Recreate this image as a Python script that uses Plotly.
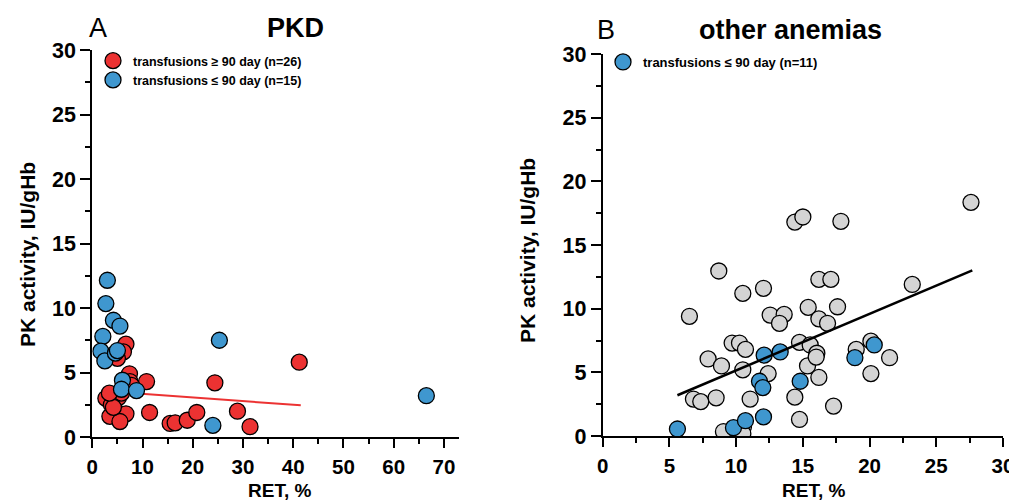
import plotly.graph_objects as go

# ---------------- Panel A (PKD) ----------------
pkd_red_ret = [6.7, 6.2, 5.0, 7.4, 7.5, 10.8, 24.4, 41.2, 2.7, 5.2, 3.8, 4.5, 3.5, 6.7, 5.5,
               11.4, 15.5, 16.5, 18.9, 20.8, 28.9, 31.4, 7.8, 4.2, 5.8, 3.4]
pkd_red_pk = [7.2, 6.6, 6.1, 4.9, 4.3, 4.3, 4.2, 5.8, 3.0, 3.05, 2.5, 2.1, 1.6, 1.8, 1.2,
              1.9, 1.05, 1.1, 1.3, 1.9, 2.0, 0.8, 4.0, 2.3, 3.4, 3.4]
pkd_blue_ret = [3.0, 2.7, 4.2, 5.5, 2.1, 25.3, 1.7, 2.5, 4.6, 5.0, 6.0, 5.8, 8.8, 24.0, 66.5]
pkd_blue_pk = [12.15, 10.34, 9.05, 8.6, 7.8, 7.5, 6.65, 5.9, 6.5, 6.7, 4.4, 3.7, 3.6, 0.9, 3.2]
pkd_fit_ret = [2.9, 41.5]
pkd_fit_pk = [3.54, 2.46]

# ---------------- Panel B (other anemias) ----------------
oth_gray_ret = [6.5, 8.7, 10.5, 12.05, 14.4, 15.0, 16.2, 12.55, 13.6, 13.25, 15.4, 16.2, 9.7, 10.25,
                10.7, 7.9, 8.9, 10.5, 12.4, 14.75, 15.55, 16.05, 15.35, 16.2, 6.8, 7.35, 8.5, 11.05,
                14.4, 14.75, 9.05, 10.55, 10.5, 27.6, 17.85, 17.1, 23.2, 17.6, 16.85, 16.0, 19.0,
                20.1, 21.5, 20.1, 17.3]
oth_gray_pk = [9.4, 12.96, 11.2, 11.6, 16.8, 17.2, 12.3, 9.5, 9.55, 8.85, 10.1, 9.2, 7.3, 7.3,
               6.8, 6.05, 5.5, 5.2, 4.9, 7.35, 7.15, 6.5, 5.5, 4.6, 2.9, 2.7, 3.0, 2.9,
               3.05, 1.3, 0.35, 0.73, 0.2, 18.35, 16.86, 12.3, 11.9, 10.15, 8.85, 6.2, 6.8,
               7.45, 6.15, 4.9, 2.35]
oth_blue_ret = [5.6, 9.8, 10.7, 12.05, 11.75, 12.0, 12.1, 13.3, 14.8, 18.9, 20.35]
oth_blue_pk = [0.55, 0.65, 1.2, 1.5, 4.3, 3.8, 6.35, 6.6, 4.3, 6.15, 7.15]
oth_fit_ret = [5.6, 27.7]
oth_fit_pk = [3.2, 13.0]

# tick labels
y_ticks = [0, 5, 10, 15, 20, 25, 30]
xA_ticks = [0, 10, 20, 30, 40, 50, 60, 70]
xB_ticks = [0, 5, 10, 15, 20, 25, 30]

labels = ["transfusions \u2265 90 day (n=26)", "transfusions \u2264 90 day (n=15)",
          "transfusions \u2264 90 day (n=11)"]
y_title = "PK activity, IU/gHb"
x_title = "RET, %"

RED = "#EC3232"
BLUE = "#3F97CF"
GRAY = "#D4D4D4"
FONT = "Arial, Liberation Sans, sans-serif"

mk = lambda c: dict(color=c, size=16, line=dict(color="black", width=1.3))

fig = go.Figure()
fig.add_trace(go.Scatter(x=pkd_fit_ret, y=pkd_fit_pk, mode="lines",
                         line=dict(color=RED, width=2), showlegend=False,
                         xaxis="x", yaxis="y"))
fig.add_trace(go.Scatter(x=pkd_red_ret, y=pkd_red_pk, mode="markers", marker=mk(RED),
                         name=labels[0], legend="legend", xaxis="x", yaxis="y"))
fig.add_trace(go.Scatter(x=pkd_blue_ret, y=pkd_blue_pk, mode="markers", marker=mk(BLUE),
                         name=labels[1], legend="legend", xaxis="x", yaxis="y"))

fig.add_trace(go.Scatter(x=oth_gray_ret, y=oth_gray_pk, mode="markers", marker=mk(GRAY),
                         showlegend=False, xaxis="x2", yaxis="y2"))
fig.add_trace(go.Scatter(x=oth_blue_ret, y=oth_blue_pk, mode="markers", marker=mk(BLUE),
                         name=labels[2], legend="legend2", xaxis="x2", yaxis="y2"))
fig.add_trace(go.Scatter(x=oth_fit_ret, y=oth_fit_pk, mode="lines",
                         line=dict(color="black", width=2.5), showlegend=False,
                         xaxis="x2", yaxis="y2"))

# page is offset by the 8px body margin
OFF = 8
W, H = 1009, 494
def px_x(p): return (p - OFF) / W
def px_y(p): return 1 - (p - OFF) / H

tickfont_y = dict(family=FONT, size=21.5, color="black", weight=700)
tickfont_x = dict(family=FONT, size=20.5, color="black", weight=700)

def bold(vals): return [f"<b>{v}</b>" for v in vals]

def xaxis(domain, rng, ticks, minor, anchor):
    return dict(domain=domain, range=rng, tickmode="array", tickvals=ticks, ticktext=bold(ticks),
                showgrid=False, zeroline=False, anchor=anchor, automargin=False,
                showline=True, linecolor="black", linewidth=2, ticks="outside", ticklen=9,
                tickwidth=2, tickcolor="black", tickfont=tickfont_x, ticklabelstandoff=1,
                minor=dict(dtick=minor, tick0=0, ticks="outside", ticklen=5, tickwidth=2,
                           tickcolor="black", showgrid=False))

def yaxis(domain, anchor):
    return dict(domain=domain, range=[0, 30], tickmode="array", tickvals=y_ticks,
                ticktext=bold(y_ticks), showgrid=False, zeroline=False,
                anchor=anchor, automargin=False,
                showline=True, linecolor="black", linewidth=2, ticks="outside", ticklen=10,
                tickwidth=2, tickcolor="black", tickfont=tickfont_y,
                minor=dict(dtick=2.5, tick0=0, ticks="outside", ticklen=5, tickwidth=2,
                           tickcolor="black", showgrid=False))

def ann(text, x, y, size, bold=False, angle=0, xanchor="center"):
    return dict(text=f"<b>{text}</b>" if bold else text, x=px_x(x), y=px_y(y),
                xref="paper", yref="paper", showarrow=False, xanchor=xanchor,
                yanchor="middle", textangle=angle,
                font=dict(family=FONT, size=size, color="black"))

fig.update_layout(
    width=W, height=H, margin=dict(l=0, r=0, t=0, b=0, autoexpand=False),
    paper_bgcolor="white", plot_bgcolor="white",
    font=dict(family=FONT, color="black"),
    xaxis=xaxis([px_x(92.3), px_x(459)], [0, 73], xA_ticks, 5, "y"),
    yaxis=yaxis([px_y(437), px_y(50)], "x"),
    xaxis2=xaxis([px_x(602.7), px_x(1003)], [0, 30], xB_ticks, 2.5, "y2"),
    yaxis2=yaxis([px_y(436), px_y(54)], "x2"),
    legend=dict(x=px_x(93), y=px_y(46), xanchor="left", yanchor="top",
                bgcolor="rgba(0,0,0,0)", font=dict(family=FONT, size=12.5, weight="bold"),
                itemsizing="trace", itemwidth=30, tracegroupgap=0),
    legend2=dict(x=px_x(603), y=px_y(47), xanchor="left", yanchor="top",
                 bgcolor="rgba(0,0,0,0)", font=dict(family=FONT, size=13, weight="bold"),
                 itemsizing="trace", itemwidth=30),
    annotations=[
        ann("A", 87, 28, 27, xanchor="left"),
        ann("PKD", 295, 28, 27, bold=True),
        ann("B", 595, 30, 27, xanchor="left"),
        ann("other anemias", 790, 30, 27, bold=True),
        ann(y_title, 27, 255, 21, bold=True, angle=-90),
        ann(y_title, 528, 251, 21, bold=True, angle=-90),
        ann(x_title, 279, 490, 19, bold=True),
        ann(x_title, 813, 490, 19, bold=True),
    ],
)

fig.write_html("out.html")
